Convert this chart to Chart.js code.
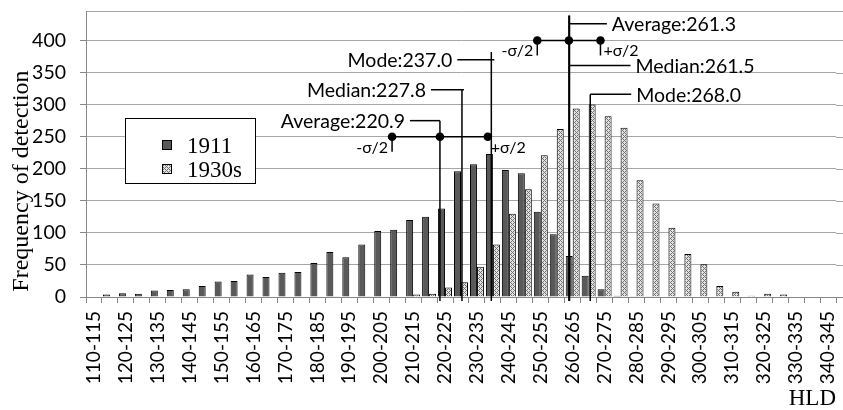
<!DOCTYPE html>
<html>
<head>
<meta charset="utf-8">
<script src="https://cdn.jsdelivr.net/npm/chart.js@4.4.1/dist/chart.umd.min.js"></script>
<style>
  html, body { margin: 0; padding: 0; background: #fff; overflow: hidden; }
  canvas { display: block; }
</style>
</head>
<body>
<canvas id="chart" width="843" height="410"></canvas>
<script>
// HLD classes (5-unit bins)
const categories = [
  '110-115','115-120','120-125','125-130','130-135','135-140','140-145','145-150',
  '150-155','155-160','160-165','165-170','170-175','175-180','180-185','185-190',
  '190-195','195-200','200-205','205-210','210-215','215-220','220-225','225-230',
  '230-235','235-240','240-245','245-250','250-255','255-260','260-265','265-270',
  '270-275','275-280','280-285','285-290','290-295','295-300','300-305','305-310',
  '310-315','315-320','320-325','325-330','330-335','335-340','340-345'
];

// Frequency of detection per class
const series1911 = [
  0, 4, 6, 5, 10, 11, 12, 17,
  24, 25, 35, 31, 38, 39, 53, 70,
  62, 82, 103, 105, 120, 125, 138, 196,
  207, 223, 198, 193, 133, 98, 64, 33,
  12, 2, 1, 1, 0, 0, 0, 0,
  0, 0, 0, 0, 0, 0, 0
];
const series1930s = [
  0, 0, 0, 0, 0, 0, 0, 0,
  0, 0, 0, 0, 0, 0, 0, 1,
  0, 1, 0, 0, 4, 5, 15, 23,
  47, 82, 130, 168, 221, 262, 294, 300,
  282, 264, 182, 146, 108, 67, 51, 17,
  8, 2, 5, 4, 0, 0, 0
];

// Summary statistics of each distribution (HLD)
const statNames = ['Average', 'Median', 'Mode'];
const stats1911 = [220.9, 227.8, 237.0];
const stats1930s = [261.3, 261.5, 268.0];
const sigmaValues = [30.0, 19.8];

// Frequency axis
const yTickStep = 50;
const yTickMax = 400;

const binStart = 110;
const binWidth = 5;

const SANS = 'Lato, "Open Sans", sans-serif';
const SERIF = '"Liberation Serif", "Times New Roman", serif';

const canvas = document.getElementById('chart');
const ctx = canvas.getContext('2d');

function makeHatch() {
  const t = document.createElement('canvas');
  t.width = 4; t.height = 4;
  const g = t.getContext('2d');
  g.fillStyle = '#e4e4e4';
  g.fillRect(0, 0, 4, 4);
  g.fillStyle = '#707070';
  [[0,0],[1,1],[2,2],[3,3],[1,3],[3,1]].forEach(([x, y]) => g.fillRect(x, y, 1, 1));
  return ctx.createPattern(t, 'repeat');
}
const hatch = makeHatch();

// HLD value -> pixel along the category axis
function hldX(scale, h) {
  return scale.getPixelForValue((h - binStart) / binWidth - 0.5);
}

// layout of the statistic markers for each series
const markerLayout = [
  {
    stats: stats1911, sigma: sigmaValues[0], sigmaLevel: 250, side: 'left',
    ticks: [true, false],
    lines: [
      { conn: 275, top: 275, len: 30, over: 0 },
      { conn: 323, top: 323, len: 31, over: 2 },
      { conn: 370, top: 382, len: 34, over: 3 }
    ]
  },
  {
    stats: stats1930s, sigma: sigmaValues[1], sigmaLevel: 400, side: 'right',
    ticks: [true, true],
    lines: [
      { conn: 426, top: 439, len: 38, over: 0 },
      { conn: 361, top: 439, len: 61, over: 0 },
      { conn: 316, top: 316, len: 41, over: 0 }
    ]
  }
];

const statMarkers = {
  id: 'statMarkers',
  afterDatasetsDraw(chart) {
    const { ctx, scales: { x, y }, chartArea } = chart;
    ctx.save();
    ctx.strokeStyle = '#000';
    ctx.fillStyle = '#000';
    ctx.lineWidth = 1.5;
    markerLayout.forEach(m => {
      m.lines.forEach((ln, i) => {
        const px = hldX(x, m.stats[i]);
        const cy = y.getPixelForValue(ln.conn);
        const ty = y.getPixelForValue(ln.top);
        ctx.beginPath();
        ctx.moveTo(px, ty);
        ctx.lineTo(px, chartArea.bottom + 4);
        ctx.stroke();
        const x0 = m.side === 'left' ? px - ln.len : px - ln.over;
        const x1 = m.side === 'left' ? px + ln.over : px + ln.len;
        ctx.beginPath();
        ctx.moveTo(x0, cy);
        ctx.lineTo(x1, cy);
        ctx.stroke();
        ctx.font = '19.5px ' + SANS;
        ctx.textBaseline = 'alphabetic';
        const label = statNames[i] + ':' + m.stats[i].toFixed(1);
        if (m.side === 'left') {
          ctx.textAlign = 'right';
          ctx.fillText(label, x0 - 5, cy + 7.5);
        } else {
          ctx.textAlign = 'left';
          ctx.fillText(label, x1 + 5, cy + 7.5);
        }
      });
      // ±σ/2 bar
      const avg = m.stats[0];
      const xl = hldX(x, avg - m.sigma / 2);
      const xc = hldX(x, avg);
      const xr = hldX(x, avg + m.sigma / 2);
      const sy = y.getPixelForValue(m.sigmaLevel);
      ctx.beginPath();
      ctx.moveTo(xl, sy);
      ctx.lineTo(xr, sy);
      ctx.stroke();
      if (m.ticks[0]) { ctx.beginPath(); ctx.moveTo(xl, sy); ctx.lineTo(xl, sy + 15); ctx.stroke(); }
      if (m.ticks[1]) { ctx.beginPath(); ctx.moveTo(xr, sy); ctx.lineTo(xr, sy + 15); ctx.stroke(); }
      [xl, xc, xr].forEach(px => {
        ctx.beginPath();
        ctx.arc(px, sy, 4.3, 0, Math.PI * 2);
        ctx.fill();
      });
      ctx.font = '16px ' + SANS;
      ctx.textAlign = 'right';
      ctx.fillText('-σ/2', xl - 4, sy + 16);
      ctx.textAlign = 'left';
      ctx.fillText('+σ/2', xr + 3, sy + 16);
    });
    ctx.restore();
  }
};

// horizontal rules continue to the right edge of the figure
const gridRun = {
  id: 'gridRun',
  beforeDatasetsDraw(chart) {
    const { ctx, scales: { y }, chartArea } = chart;
    ctx.save();
    ctx.lineWidth = 1;
    y.ticks.forEach(t => {
      const py = Math.round(y.getPixelForValue(t.value)) + 0.5;
      ctx.strokeStyle = t.value === 0 ? '#868686' : '#a6a6a6';
      ctx.beginPath();
      ctx.moveTo(chartArea.right, py);
      ctx.lineTo(chart.width, py);
      ctx.stroke();
    });
    ctx.restore();
  }
};

const boxLegend = {
  id: 'boxLegend',
  afterDraw(chart) {
    const { ctx } = chart;
    ctx.save();
    ctx.fillStyle = '#fff';
    ctx.fillRect(125.5, 118.5, 130, 65);
    ctx.strokeStyle = '#000';
    ctx.lineWidth = 1;
    ctx.strokeRect(125.5, 118.5, 130, 65);
    chart.data.datasets.forEach((ds, i) => {
      const top = 140 + i * 24;
      ctx.fillStyle = ds.backgroundColor;
      ctx.fillRect(162, top, 10, 10);
      ctx.strokeStyle = '#000';
      ctx.strokeRect(162.5, top + 0.5, 9, 9);
      ctx.fillStyle = '#000';
      ctx.font = '23px ' + SERIF;
      ctx.textAlign = 'left';
      ctx.textBaseline = 'alphabetic';
      ctx.fillText(ds.label, 187, top + 12.5);
    });
    ctx.restore();
  }
};

const yTitle = {
  id: 'yTitle',
  afterDraw(chart) {
    const { ctx } = chart;
    ctx.save();
    ctx.translate(28, 181);
    ctx.rotate(-Math.PI / 2);
    ctx.font = '24px ' + SERIF;
    ctx.fillStyle = '#000';
    ctx.textAlign = 'center';
    ctx.textBaseline = 'alphabetic';
    ctx.fillText('Frequency of detection', 0, 0);
    ctx.restore();
  }
};

new Chart(ctx, {
  type: 'bar',
  data: {
    labels: categories,
    datasets: [
      {
        label: '1911',
        data: series1911,
        backgroundColor: '#595959',
        borderColor: '#000',
        borderWidth: 1
      },
      {
        label: '1930s',
        data: series1930s,
        backgroundColor: hatch,
        borderColor: '#000',
        borderWidth: 1
      }
    ]
  },
  options: {
    responsive: false,
    animation: false,
    devicePixelRatio: 1,
    events: [],
    categoryPercentage: 0.875,
    barPercentage: 1.0,
    layout: { padding: { left: 0, top: 11, right: 7, bottom: 0 } },
    plugins: {
      legend: { display: false },
      tooltip: { enabled: false }
    },
    scales: {
      x: {
        type: 'category',
        offset: true,
        grid: {
          offset: true,
          drawOnChartArea: false,
          drawTicks: true,
          tickLength: 6,
          color: '#868686',
          tickColor: '#868686'
        },
        border: { display: true, color: '#868686', width: 1 },
        ticks: {
          autoSkip: false,
          minRotation: 90,
          maxRotation: 90,
          padding: 8,
          color: '#000',
          font: { family: SANS, size: 19 },
          callback(value, index) {
            return index % 2 === 0 ? this.getLabelForValue(value) : '';
          }
        },
        title: {
          display: true,
          text: 'HLD',
          align: 'end',
          color: '#000',
          font: { family: SERIF, size: 23, lineHeight: 1 },
          padding: { top: 0, bottom: 0 }
        },
        afterFit(scale) {
          scale.height = 113;
          scale.paddingLeft = 0;
          scale.paddingRight = 0;
        }
      },
      y: {
        min: 0,
        max: 446,
        ticks: {
          stepSize: yTickStep,
          padding: 14,
          color: '#000',
          font: { family: SANS, size: 19.5 },
          callback(value) {
            return (value % yTickStep === 0 && value <= yTickMax) ? value : '';
          }
        },
        grid: {
          color: '#a6a6a6',
          tickLength: 6,
          tickColor(c) { return c.tick && c.tick.value > yTickMax ? 'rgba(0,0,0,0)' : '#868686'; }
        },
        border: { display: true, color: '#868686', width: 1 },
        afterFit(scale) {
          scale.width = 86;
          scale.paddingTop = 0;
          scale.paddingBottom = 0;
        }
      }
    }
  },
  plugins: [gridRun, statMarkers, boxLegend, yTitle]
});
</script>
</body>
</html>
